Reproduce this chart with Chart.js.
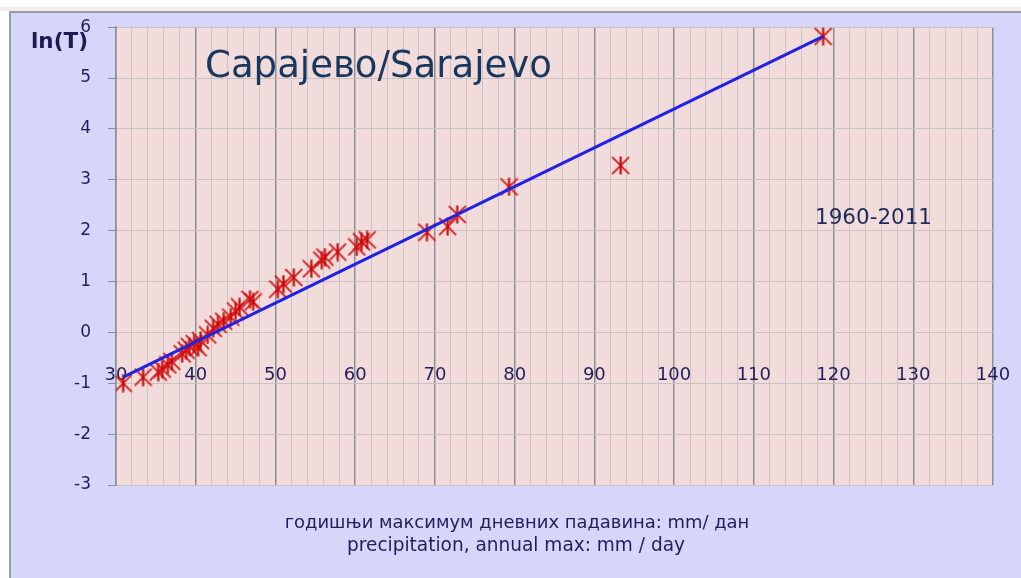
<!DOCTYPE html>
<html><head><meta charset="utf-8">
<script src="https://cdn.jsdelivr.net/npm/chart.js@4/dist/chart.umd.min.js"></script>
<style>html,body{margin:0;padding:0;background:#fff;overflow:hidden}canvas{display:block}</style>
</head><body>
<canvas id="c" width="1021" height="578"></canvas>
<script>
// ---- data ----
const precipitation = [30.9, 33.4, 35.3, 35.8, 36.5, 37.0, 38.3, 38.8, 39.2, 39.8, 40.3, 40.6, 41.5, 42.2, 42.8, 43.5, 44.4, 45.0, 45.5, 46.8, 47.2, 50.3, 51.0, 52.3, 54.5, 55.8, 56.2, 57.8, 60.2, 60.8, 61.5, 69.0, 71.6, 72.8, 79.3, 93.3, 118.7];
const lnT = [-1.00, -0.88, -0.78, -0.72, -0.64, -0.57, -0.42, -0.35, -0.28, -0.22, -0.30, -0.16, -0.05, 0.08, 0.16, 0.22, 0.30, 0.42, 0.50, 0.65, 0.60, 0.85, 0.95, 1.08, 1.25, 1.42, 1.48, 1.58, 1.68, 1.78, 1.82, 1.97, 2.08, 2.32, 2.86, 3.28, 5.82];
const trendX = [30.9, 118.7];
const trendY = [-0.88, 5.82];
const xTickLabels = ['30','40','50','60','70','80','90','100','110','120','130','140'];
const yTickLabels = ['-3','-2','-1','0','1','2','3','4','5','6'];
const titleText = 'Сарајево/Sarajevo';
const periodText = '1960-2011';
const yAxisTitle = 'ln(T)';
const xAxisTitle = ['годишњи максимум дневних падавина: mm/ дан', 'precipitation, annual max: mm / day'];

const FONT = '"DejaVu Sans", sans-serif';
const NAVY = '#221e5c';

function starMarker(size) {
  const c = document.createElement('canvas');
  c.width = c.height = size;
  const g = c.getContext('2d');
  g.strokeStyle = 'rgba(212,22,22,0.9)';
  g.lineWidth = 1.8;
  const m = size / 2, r = size / 2 - 1;
  g.beginPath();
  g.moveTo(m - r, m - r); g.lineTo(m + r, m + r);
  g.moveTo(m + r, m - r); g.lineTo(m - r, m + r);
  g.stroke();
  g.lineWidth = 2.2;
  g.strokeStyle = 'rgba(196,0,0,0.95)';
  g.beginPath();
  g.moveTo(m, 0.5); g.lineTo(m, size - 0.5);
  g.stroke();
  return c;
}
const star = starMarker(19);

function fitText(ctx, text, weight, target, base) {
  ctx.font = weight + ' ' + base + 'px ' + FONT;
  const w = ctx.measureText(text).width;
  const s = base * target / w;
  ctx.font = weight + ' ' + s.toFixed(2) + 'px ' + FONT;
}

const frame = {
  id: 'frame',
  beforeDraw(chart) {
    const ctx = chart.ctx, a = chart.chartArea;
    ctx.save();
    ctx.fillStyle = '#ffffff';
    ctx.fillRect(0, 0, chart.width, chart.height);
    ctx.fillStyle = '#f6ecf1';
    ctx.fillRect(0, 7, chart.width, 4);
    ctx.fillStyle = '#d6d6fa';
    ctx.fillRect(10, 12, chart.width - 10, chart.height - 12);
    ctx.fillStyle = '#9c9ca6';
    ctx.fillRect(9, 11, 2, chart.height - 11);
    ctx.fillRect(9, 11, chart.width - 9, 2);
    ctx.fillStyle = '#f2dcdb';
    ctx.fillRect(a.left, a.top, a.right - a.left, a.bottom - a.top);
    ctx.restore();
  },
  afterDraw(chart) {
    const ctx = chart.ctx;
    ctx.save();
    ctx.textBaseline = 'middle';
    ctx.textAlign = 'left';
    ctx.fillStyle = '#1c1a50';
    fitText(ctx, yAxisTitle, 'bold', 57, 20);
    ctx.fillText(yAxisTitle, 31, 42);
    ctx.fillStyle = '#17375e';
    fitText(ctx, titleText, 'normal', 347, 32);
    ctx.fillText(titleText, 205, 67);
    ctx.fillStyle = '#1f2a5a';
    fitText(ctx, periodText, 'normal', 117, 17);
    ctx.fillText(periodText, 815, 218);
    ctx.textAlign = 'center';
    ctx.fillStyle = NAVY;
    fitText(ctx, xAxisTitle[0], 'normal', 465, 17);
    ctx.fillText(xAxisTitle[0], 517, 523);
    fitText(ctx, xAxisTitle[1], 'normal', 338, 17);
    ctx.fillText(xAxisTitle[1], 516, 546);
    ctx.restore();
  }
};

new Chart(document.getElementById('c'), {
  type: 'scatter',
  data: {
    datasets: [
      {
        type: 'line',
        data: trendX.map((x, i) => ({x: x, y: trendY[i]})),
        borderColor: '#2222e2',
        borderWidth: 3,
        pointRadius: 0,
        fill: false,
        tension: 0
      },
      {
        data: precipitation.map((x, i) => ({x: x, y: lnT[i]})),
        pointStyle: star,
        pointRadius: 9,
        showLine: false
      }
    ]
  },
  options: {
    responsive: false,
    devicePixelRatio: 1,
    animation: false,
    layout: {padding: {left: 0, top: 27, right: 28, bottom: 93}},
    plugins: {legend: {display: false}, tooltip: {enabled: false}},
    scales: {
      x: {
        type: 'linear',
        min: 30, max: 140,
        position: {y: -0.55},
        ticks: {
          stepSize: 2,
          autoSkip: false,
          maxRotation: 0,
          padding: 4,
          color: NAVY,
          font: {family: FONT, size: 18},
          callback: (v) => {
            const s = String(Math.round(v));
            return xTickLabels.includes(s) && v % 10 === 0 ? s : '';
          }
        },
        grid: {
          drawTicks: false,
          color: (c) => (c.tick && c.tick.value % 10 === 0) ? '#8d8d96' : '#cdc3c4',
          lineWidth: (c) => (c.tick && c.tick.value % 10 === 0) ? 1.5 : 1
        },
        border: {display: false}
      },
      y: {
        type: 'linear',
        min: -3, max: 6,
        afterFit: (s) => { s.width = 116; },
        ticks: {
          stepSize: 1,
          padding: 17,
          color: NAVY,
          font: {family: FONT, size: 17},
          callback: (v) => {
            const s = String(Math.round(v));
            return yTickLabels.includes(s) ? s : '';
          }
        },
        grid: {
          color: '#c9c2c3',
          lineWidth: 1,
          tickLength: 8,
          tickColor: '#8d8d96'
        },
        border: {display: true, color: '#8d8d96', width: 1.5}
      }
    }
  },
  plugins: [frame]
});
</script>
</body></html>
